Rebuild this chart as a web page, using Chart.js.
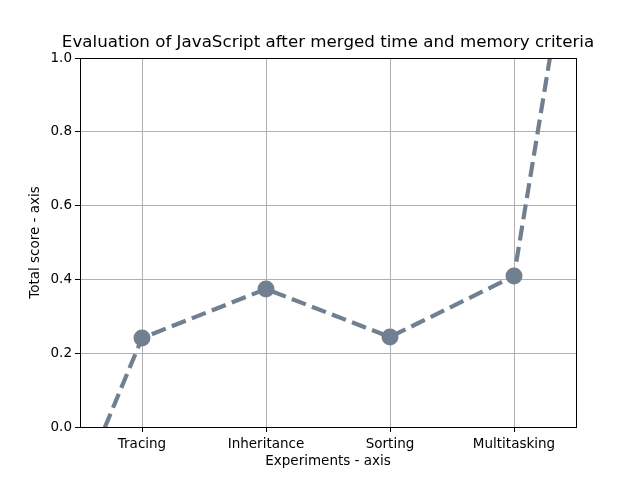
<!DOCTYPE html>
<html>
<head>
<meta charset="utf-8">
<script src="https://cdn.jsdelivr.net/npm/chart.js@4"></script>
<style>
  html, body { margin: 0; padding: 0; background: #fff; }
  #wrap { width: 640px; height: 480px; }
</style>
</head>
<body>
<div id="wrap"><canvas id="scoreChart" width="640" height="480"></canvas></div>
<script>
// categorias e valores
const categories = ['Tracing', 'Inheritance', 'Sorting', 'Multitasking'];
const scores = [0.241, 0.374, 0.244, 0.409];
// a linha continua além dos pontos, até as bordas do eixo
const leadInScore = -0.163;
const tailScore = 1.43;
const yTicks = [0, 0.2, 0.4, 0.6, 0.8, 1.0];
const chartTitle = 'Evaluation of JavaScript after merged time and memory criteria';

const lineColor = '#708090';
const gridColor = '#b0b0b0';
const fontFamily = 'DejaVu Sans';

// Moldura preta e título centrado sobre a área do gráfico (como no matplotlib)
const framePlugin = {
    id: 'frame',
    afterDraw(chart) {
        const a = chart.chartArea;
        const c = chart.ctx;
        c.save();
        c.strokeStyle = '#000';
        c.lineWidth = 1;
        c.strokeRect(Math.round(a.left) + 0.5, Math.round(a.top) + 0.5,
            Math.round(a.right - a.left), Math.round(a.bottom - a.top));
        c.fillStyle = '#000';
        c.font = '16.7px "' + fontFamily + '"';
        c.textAlign = 'center';
        c.textBaseline = 'middle';
        c.fillText(chartTitle, (a.left + a.right) / 2, a.top - 15);
        c.restore();
    }
};

const points = [{ x: -0.5, y: leadInScore }];
scores.forEach((s, i) => points.push({ x: i, y: s }));
points.push({ x: categories.length - 0.5, y: tailScore });

const radii = points.map((p, i) => (i === 0 || i === points.length - 1) ? 0 : 8.5);

const ctx = document.getElementById('scoreChart').getContext('2d');
new Chart(ctx, {
    type: 'line',
    data: {
        datasets: [{
            data: points,
            borderColor: lineColor,
            backgroundColor: lineColor,
            borderWidth: 4.2,
            borderDash: [15, 6.5],
            pointRadius: radii,
            pointHoverRadius: radii,
            pointBorderWidth: 0,
            pointBackgroundColor: lineColor,
            tension: 0,
            clip: 0
        }]
    },
    options: {
        responsive: false,
        animation: false,
        events: [],
        layout: { padding: { left: 0, right: 64, top: 58, bottom: 0 } },
        plugins: {
            legend: { display: false },
            tooltip: { enabled: false },
            title: { display: false }
        },
        scales: {
            x: {
                type: 'linear',
                min: -0.5,
                max: categories.length - 0.5,
                afterBuildTicks(scale) {
                    scale.ticks = categories.map((c, i) => ({ value: i }));
                },
                afterFit(scale) { scale.height = 53; },
                ticks: {
                    color: '#000',
                    padding: 4,
                    autoSkip: false,
                    maxRotation: 0,
                    font: { family: fontFamily, size: 13.5 },
                    callback: (v) => categories[v]
                },
                grid: { color: gridColor, tickColor: '#000', tickLength: 5 },
                border: { color: '#000' },
                title: {
                    display: true,
                    text: 'Experiments - axis',
                    color: '#000',
                    font: { family: fontFamily, size: 13.5 },
                    padding: { top: 0, bottom: 10 }
                }
            },
            y: {
                min: 0,
                max: 1,
                afterBuildTicks(scale) {
                    scale.ticks = yTicks.map(v => ({ value: v }));
                },
                afterFit(scale) { scale.width = 80; },
                ticks: {
                    color: '#000',
                    padding: 3,
                    font: { family: fontFamily, size: 13.5 },
                    callback: (v) => Number(v).toFixed(1)
                },
                grid: { color: gridColor, tickColor: '#000', tickLength: 5 },
                border: { color: '#000' },
                title: {
                    display: true,
                    text: 'Total score - axis',
                    color: '#000',
                    font: { family: fontFamily, size: 13.5 },
                    padding: { top: 27, bottom: 0 }
                }
            }
        }
    },
    plugins: [framePlugin]
});
</script>
</body>
</html>
